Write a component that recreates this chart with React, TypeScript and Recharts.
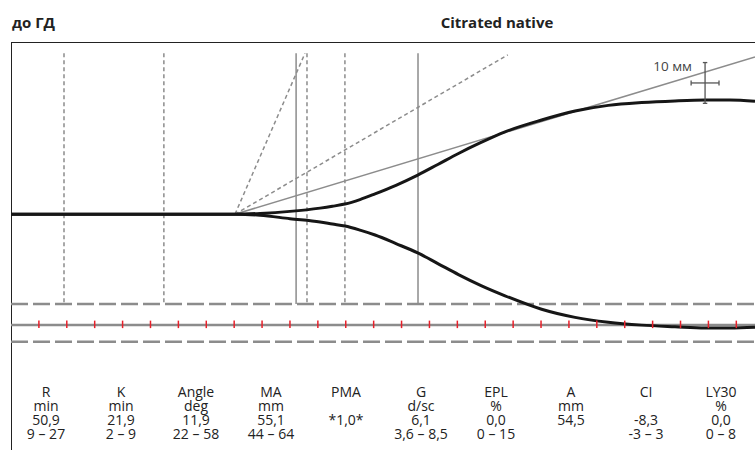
import {
  ComposedChart,
  Line,
  XAxis,
  YAxis,
  ReferenceLine,
  ReferenceDot,
  Scatter,
} from 'recharts';

// time axis in mm of trace, amplitude in mm (0 = baseline)
const TIME_MM = [0, 80.3, 89.3, 100.0, 110.8, 115.2, 119.7, 125.1, 130.5, 138.0, 145.8, 153.0, 160.4, 168.5, 177.1, 190.2, 202.2, 214.1, 226.1, 238.0, 248.8, 257.7, 266.7];
const UPPER_MM = [0, 0, 0.2, 0.7, 1.5, 1.95, 2.5, 3.6, 5.0, 7.1, 9.6, 12.2, 14.9, 17.6, 20.2, 23.1, 25.3, 26.7, 27.4, 27.8, 28.0, 28.0, 27.7];
const LOWER_MM = [0, 0, -0.25, -1.1, -1.9, -2.4, -2.9, -3.9, -5.1, -7.2, -9.5, -12.1, -14.8, -17.5, -20.0, -23.3, -25.3, -26.5, -27.2, -27.6, -27.9, -27.9, -27.7];

const MA_TANGENT = [{ x: 80.3, y: 0 }, { x: 266.7, y: 38.6 }];
const ANGLE_STEEP = [{ x: 80.3, y: 0 }, { x: 105.4, y: 39.5 }];
const ANGLE_MID = [{ x: 80.3, y: 0 }, { x: 178.1, y: 39.1 }];

const DOTTED_X = [19.0, 54.8, 106.1, 119.7];
const SOLID_X = [102.2, 145.9];
const MARKER_TOP = 39.5;
const MARKER_BOTTOM = -22.0;

const DASHED_Y = [-22.0, -31.3];
const TIME_LINE_Y = -27.2;
const TIME_TICKS = [10, 20, 30, 40, 50, 60, 70, 80, 90, 100, 110, 120, 130, 140, 150, 160, 170, 180, 190, 200, 210, 220, 230, 240, 250, 260];

const SCALE_X = 248.8;
const SCALE_Y = 32.2;
const SCALE_SIZE = 10;
const SCALE_LABEL = '10 мм';

const PARAM_NAMES = ['R', 'K', 'Angle', 'MA', 'PMA', 'G', 'EPL', 'A', 'CI', 'LY30'];
const PARAM_UNITS = ['min', 'min', 'deg', 'mm', '', 'd/sc', '%', 'mm', '', '%'];
const PARAM_VALUES = ['50,9', '21,9', '11,9', '55,1', '*1,0*', '6,1', '0,0', '54,5', '-8,3', '0,0'];
const PARAM_RANGES = ['9 – 27', '2 – 9', '22 – 58', '44 – 64', '', '3,6 – 8,5', '0 – 15', '', '-3 – 3', '0 – 8'];

const curve = TIME_MM.map((x, i) => ({ x, upper: UPPER_MM[i], lower: LOWER_MM[i] }));
const ticks = TIME_TICKS.map((x) => ({ x, y: TIME_LINE_Y }));

const FONT = '"Open Sans", sans-serif';
const GRAY = '#8c8c8c';

const RedTick = (props: any) => (
  <line x1={props.cx} x2={props.cx} y1={props.cy - 4.5} y2={props.cy + 3} stroke="#e8202a" strokeWidth={1.5} />
);

export default function App() {
  const half = SCALE_SIZE / 2;
  return (
    <div style={{ position: 'absolute', left: 0, top: 0, width: 755, height: 450, background: '#fff', fontFamily: FONT, color: '#222', overflow: 'hidden' }}>
      <div style={{ position: 'absolute', left: 12, top: 15, fontSize: 15, lineHeight: '15px', fontWeight: 700 }}>до ГД</div>
      <div style={{ position: 'absolute', left: 397, width: 200, top: 15, fontSize: 15, lineHeight: '15px', fontWeight: 700, textAlign: 'center' }}>
        Citrated native
      </div>
      <div style={{ position: 'absolute', left: 11, top: 42, width: 744, height: 408, borderLeft: '1.5px solid #222', borderTop: '1.5px solid #222' }} />

      <div style={{ position: 'absolute', left: 0, top: 0 }}>
        <ComposedChart width={755} height={450} data={curve} margin={{ top: 43, right: 0, bottom: 89, left: 11 }}>
          <XAxis dataKey="x" type="number" domain={[0, 266.7]} allowDataOverflow hide />
          <YAxis type="number" domain={[-36, 42]} allowDataOverflow hide />

          {DASHED_Y.map((y) => (
            <ReferenceLine key={`d${y}`} y={y} stroke={GRAY} strokeWidth={2.5} strokeDasharray="17 5" />
          ))}
          <ReferenceLine y={TIME_LINE_Y} stroke={GRAY} strokeWidth={2.5} />
          <Scatter data={ticks} dataKey="y" shape={RedTick} isAnimationActive={false} />

          {DOTTED_X.map((x) => (
            <ReferenceLine
              key={`v${x}`}
              segment={[{ x, y: MARKER_TOP }, { x, y: MARKER_BOTTOM }]}
              stroke={GRAY}
              strokeWidth={1.5}
              strokeDasharray="4 3"
            />
          ))}
          {SOLID_X.map((x) => (
            <ReferenceLine key={`s${x}`} segment={[{ x, y: MARKER_TOP }, { x, y: MARKER_BOTTOM }]} stroke={GRAY} strokeWidth={1.5} />
          ))}

          <Line data={ANGLE_STEEP} dataKey="y" stroke={GRAY} strokeWidth={1.5} strokeDasharray="4 3" dot={false} isAnimationActive={false} />
          <Line data={ANGLE_MID} dataKey="y" stroke={GRAY} strokeWidth={1.5} strokeDasharray="4 3" dot={false} isAnimationActive={false} />
          <Line data={MA_TANGENT} dataKey="y" stroke={GRAY} strokeWidth={1.5} dot={false} isAnimationActive={false} />

          <Line type="monotone" dataKey="upper" stroke="#161616" strokeWidth={3} dot={false} isAnimationActive={false} />
          <Line type="monotone" dataKey="lower" stroke="#161616" strokeWidth={3} dot={false} isAnimationActive={false} />

          {/* 10 mm scale cross */}
          <ReferenceLine segment={[{ x: SCALE_X, y: SCALE_Y - half }, { x: SCALE_X, y: SCALE_Y + half }]} stroke="#555" strokeWidth={1.3} />
          <ReferenceLine segment={[{ x: SCALE_X - half, y: SCALE_Y }, { x: SCALE_X + half, y: SCALE_Y }]} stroke="#555" strokeWidth={1.3} />
          <ReferenceLine segment={[{ x: SCALE_X - 0.8, y: SCALE_Y + half }, { x: SCALE_X + 0.8, y: SCALE_Y + half }]} stroke="#555" strokeWidth={1.3} />
          <ReferenceLine segment={[{ x: SCALE_X - 0.8, y: SCALE_Y - half }, { x: SCALE_X + 0.8, y: SCALE_Y - half }]} stroke="#555" strokeWidth={1.3} />
          <ReferenceLine segment={[{ x: SCALE_X - half, y: SCALE_Y - 0.6 }, { x: SCALE_X - half, y: SCALE_Y + 0.6 }]} stroke="#555" strokeWidth={1.3} />
          <ReferenceLine segment={[{ x: SCALE_X + half, y: SCALE_Y - 0.6 }, { x: SCALE_X + half, y: SCALE_Y + 0.6 }]} stroke="#555" strokeWidth={1.3} />
          <ReferenceDot
            x={245.9}
            y={36.35}
            r={0}
            fill="none"
            stroke="none"
            label={{ value: SCALE_LABEL, position: 'left', fill: '#444', fontSize: 13.5, fontFamily: FONT }}
          />
        </ComposedChart>
      </div>

      {PARAM_NAMES.map((name, i) => (
        <div
          key={name}
          style={{
            position: 'absolute',
            left: 46 + 75 * i - 40,
            width: 80,
            top: 385,
            textAlign: 'center',
            fontSize: 14,
            lineHeight: '14px',
            color: '#222',
          }}
        >
          <div>{name}</div>
          <div>{PARAM_UNITS[i] || '\u00a0'}</div>
          <div>{PARAM_VALUES[i]}</div>
          <div>{PARAM_RANGES[i] || '\u00a0'}</div>
        </div>
      ))}
    </div>
  );
}
